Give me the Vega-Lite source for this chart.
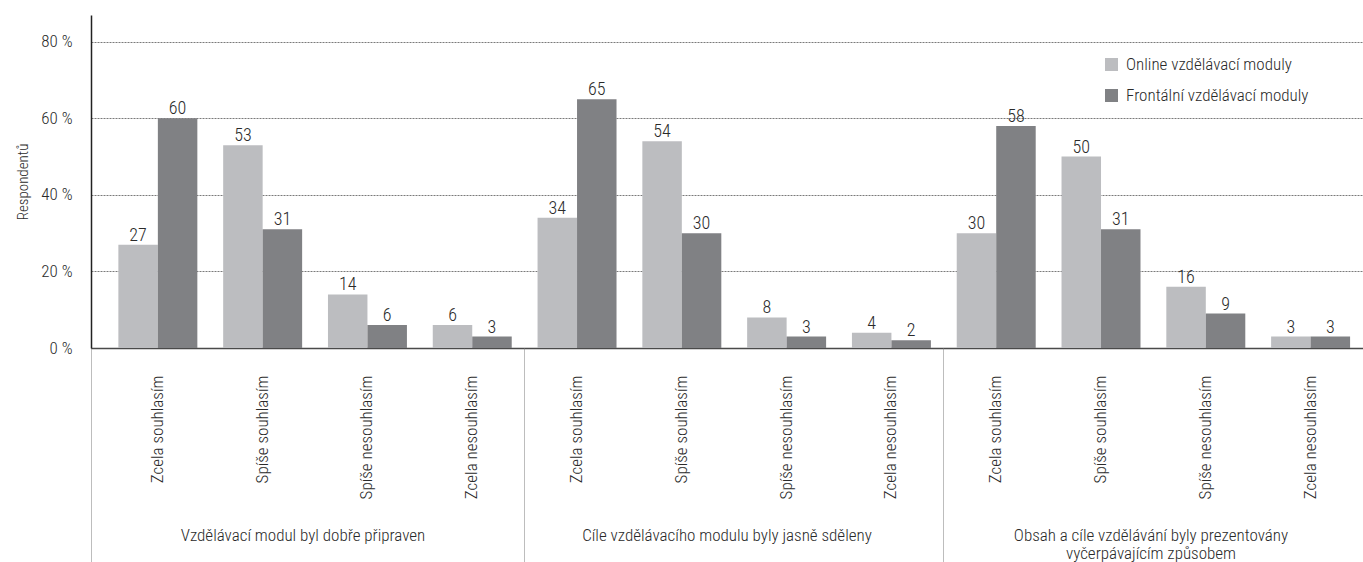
{
  "$schema": "https://vega.github.io/schema/vega-lite/v6.json",
  "width": 1272,
  "height": 333,
  "autosize": {"type": "none"},
  "padding": {"left": 91, "top": 15, "right": 0, "bottom": 214},
  "background": "white",
  "config": {
    "view": {"stroke": null},
    "font": "Liberation Sans Narrow, Roboto Condensed, DejaVu Sans Condensed, Liberation Sans",
    "axis": {"labelFont": "Liberation Sans Narrow, Roboto Condensed, DejaVu Sans Condensed, Liberation Sans", "titleFont": "Liberation Sans Narrow, Roboto Condensed, DejaVu Sans Condensed, Liberation Sans", "labelFontWeight": 300},
    "legend": {"labelFont": "Liberation Sans Narrow, Roboto Condensed, DejaVu Sans Condensed, Liberation Sans", "labelFontWeight": 300}
  },
  "data": {
    "values": [
      {"skupina": "Vzdělávací modul byl dobře připraven", "odpoved": "Zcela souhlasím", "modul": "Online vzdělávací moduly", "hodnota": 27},
      {"skupina": "Vzdělávací modul byl dobře připraven", "odpoved": "Zcela souhlasím", "modul": "Frontální vzdělávací moduly", "hodnota": 60},
      {"skupina": "Vzdělávací modul byl dobře připraven", "odpoved": "Spíše souhlasím", "modul": "Online vzdělávací moduly", "hodnota": 53},
      {"skupina": "Vzdělávací modul byl dobře připraven", "odpoved": "Spíše souhlasím", "modul": "Frontální vzdělávací moduly", "hodnota": 31},
      {"skupina": "Vzdělávací modul byl dobře připraven", "odpoved": "Spíše nesouhlasím", "modul": "Online vzdělávací moduly", "hodnota": 14},
      {"skupina": "Vzdělávací modul byl dobře připraven", "odpoved": "Spíše nesouhlasím", "modul": "Frontální vzdělávací moduly", "hodnota": 6},
      {"skupina": "Vzdělávací modul byl dobře připraven", "odpoved": "Zcela nesouhlasím", "modul": "Online vzdělávací moduly", "hodnota": 6},
      {"skupina": "Vzdělávací modul byl dobře připraven", "odpoved": "Zcela nesouhlasím", "modul": "Frontální vzdělávací moduly", "hodnota": 3},
      {"skupina": "Cíle vzdělávacího modulu byly jasně sděleny", "odpoved": "Zcela souhlasím", "modul": "Online vzdělávací moduly", "hodnota": 34},
      {"skupina": "Cíle vzdělávacího modulu byly jasně sděleny", "odpoved": "Zcela souhlasím", "modul": "Frontální vzdělávací moduly", "hodnota": 65},
      {"skupina": "Cíle vzdělávacího modulu byly jasně sděleny", "odpoved": "Spíše souhlasím", "modul": "Online vzdělávací moduly", "hodnota": 54},
      {"skupina": "Cíle vzdělávacího modulu byly jasně sděleny", "odpoved": "Spíše souhlasím", "modul": "Frontální vzdělávací moduly", "hodnota": 30},
      {"skupina": "Cíle vzdělávacího modulu byly jasně sděleny", "odpoved": "Spíše nesouhlasím", "modul": "Online vzdělávací moduly", "hodnota": 8},
      {"skupina": "Cíle vzdělávacího modulu byly jasně sděleny", "odpoved": "Spíše nesouhlasím", "modul": "Frontální vzdělávací moduly", "hodnota": 3},
      {"skupina": "Cíle vzdělávacího modulu byly jasně sděleny", "odpoved": "Zcela nesouhlasím", "modul": "Online vzdělávací moduly", "hodnota": 4},
      {"skupina": "Cíle vzdělávacího modulu byly jasně sděleny", "odpoved": "Zcela nesouhlasím", "modul": "Frontální vzdělávací moduly", "hodnota": 2},
      {"skupina": "Obsah a cíle vzdělávání byly prezentovány|vyčerpávajícím způsobem", "odpoved": "Zcela souhlasím", "modul": "Online vzdělávací moduly", "hodnota": 30},
      {"skupina": "Obsah a cíle vzdělávání byly prezentovány|vyčerpávajícím způsobem", "odpoved": "Zcela souhlasím", "modul": "Frontální vzdělávací moduly", "hodnota": 58},
      {"skupina": "Obsah a cíle vzdělávání byly prezentovány|vyčerpávajícím způsobem", "odpoved": "Spíše souhlasím", "modul": "Online vzdělávací moduly", "hodnota": 50},
      {"skupina": "Obsah a cíle vzdělávání byly prezentovány|vyčerpávajícím způsobem", "odpoved": "Spíše souhlasím", "modul": "Frontální vzdělávací moduly", "hodnota": 31},
      {"skupina": "Obsah a cíle vzdělávání byly prezentovány|vyčerpávajícím způsobem", "odpoved": "Spíše nesouhlasím", "modul": "Online vzdělávací moduly", "hodnota": 16},
      {"skupina": "Obsah a cíle vzdělávání byly prezentovány|vyčerpávajícím způsobem", "odpoved": "Spíše nesouhlasím", "modul": "Frontální vzdělávací moduly", "hodnota": 9},
      {"skupina": "Obsah a cíle vzdělávání byly prezentovány|vyčerpávajícím způsobem", "odpoved": "Zcela nesouhlasím", "modul": "Online vzdělávací moduly", "hodnota": 3},
      {"skupina": "Obsah a cíle vzdělávání byly prezentovány|vyčerpávajícím způsobem", "odpoved": "Zcela nesouhlasím", "modul": "Frontální vzdělávací moduly", "hodnota": 3}
    ]
  },
  "transform": [
    {"calculate": "datum.skupina + '#' + datum.odpoved", "as": "klic"}
  ],
  "layer": [
    {
      "layer": [
        {
          "mark": {"type": "bar"},
          "encoding": {
            "x": {
              "field": "klic", "type": "nominal", "sort": null,
              "scale": {"paddingInner": 0, "paddingOuter": 0.069, "align": 1},
              "axis": {
                "orient": "bottom", "title": null, "labelAngle": -90, "labelAlign": "right", "labelBaseline": "middle",
                "labelPadding": 27, "ticks": false, "domain": true, "domainColor": "#4a4a4a", "domainWidth": 1.5,
                "labelExpr": "split(datum.label, '#')[1]", "labelFontSize": 17, "labelColor": "#2a2a2a", "grid": false
              }
            },
            "xOffset": {"field": "modul", "type": "nominal", "sort": null, "scale": {"paddingInner": 0, "paddingOuter": 0.327}},
            "y": {
              "field": "hodnota", "type": "quantitative",
              "scale": {"domain": [0, 87], "nice": false},
              "axis": {
                "title": "Respondentů", "values": [0, 20, 40, 60, 80], "labelExpr": "datum.value + ' %'",
                "ticks": false, "labelPadding": 19, "labelFontSize": 17, "labelColor": "#2a2a2a",
                "grid": true, "gridDash": [2, 1], "gridColor": "#7a7a7a", "gridWidth": 1,
                "domainColor": "#222222", "domainWidth": 1.5,
                "titleFontSize": 15, "titleFontWeight": 300, "titlePadding": 10, "titleColor": "#2a2a2a"
              }
            },
            "color": {
              "field": "modul", "type": "nominal", "sort": null,
              "scale": {"domain": ["Online vzdělávací moduly", "Frontální vzdělávací moduly"], "range": ["#bcbdc0", "#808184"]},
              "legend": {
                "title": null, "orient": "none", "legendX": 1012, "legendY": 41,
                "symbolType": "square", "symbolSize": 169, "symbolStrokeWidth": 0,
                "labelFontSize": 17, "labelColor": "#2a2a2a", "rowPadding": 13, "labelOffset": 6, "labelLimit": 0
              }
            }
          }
        },
        {
          "mark": {"type": "text", "baseline": "alphabetic", "dy": -4, "fontSize": 18, "fontWeight": 300, "color": "#2a2a2a"},
          "encoding": {
            "x": {
              "field": "klic", "type": "nominal", "sort": null,
              "axis": {
                "orient": "bottom", "title": null, "bandPosition": 0,
                "values": [
                  "Cíle vzdělávacího modulu byly jasně sděleny#Zcela souhlasím",
                  "Obsah a cíle vzdělávání byly prezentovány|vyčerpávajícím způsobem#Zcela souhlasím"
                ],
                "labels": false, "domain": false, "grid": false,
                "ticks": true, "tickSize": 214, "tickDash": [1, 1], "tickColor": "#7a7a7a", "tickWidth": 1
              }
            },
            "xOffset": {"field": "modul", "type": "nominal", "sort": null},
            "y": {
              "field": "hodnota", "type": "quantitative",
              "axis": {
                "title": "Respondentů", "values": [0, 20, 40, 60, 80], "labelExpr": "datum.value + ' %'",
                "ticks": false, "labelPadding": 19, "labelFontSize": 17, "labelColor": "#2a2a2a",
                "grid": true, "gridDash": [2, 1], "gridColor": "#7a7a7a", "gridWidth": 1,
                "domainColor": "#222222", "domainWidth": 1.5,
                "titleFontSize": 15, "titleFontWeight": 300, "titlePadding": 10, "titleColor": "#2a2a2a"
              }
            },
            "text": {"field": "hodnota", "type": "quantitative"}
          }
        }
      ],
      "resolve": {"axis": {"x": "independent"}}
    },
    {
      "mark": {"type": "rule", "strokeOpacity": 0},
      "encoding": {
        "x": {
          "field": "skupina", "type": "nominal", "sort": null,
          "scale": {"paddingInner": 0, "paddingOuter": 0},
          "axis": {
            "orient": "bottom", "title": null, "bandPosition": 0,
            "labelExpr": "split(datum.label, '|')",
            "labelAngle": 0, "labelAlign": "center", "labelBaseline": "top",
            "labelPadding": -35, "labelLineHeight": 18, "labelLimit": 0,
            "labelFontSize": 17, "labelColor": "#2a2a2a",
            "ticks": true, "tickSize": 214, "tickDash": [1, 1], "tickColor": "#7a7a7a", "tickWidth": 1,
            "tickOpacity": {"condition": {"test": "datum.value === 'Vzdělávací modul byl dobře připraven'", "value": 1}, "value": 0},
            "domain": false, "grid": false
          }
        }
      }
    }
  ],
  "resolve": {"scale": {"x": "independent"}, "axis": {"x": "independent"}}
}
